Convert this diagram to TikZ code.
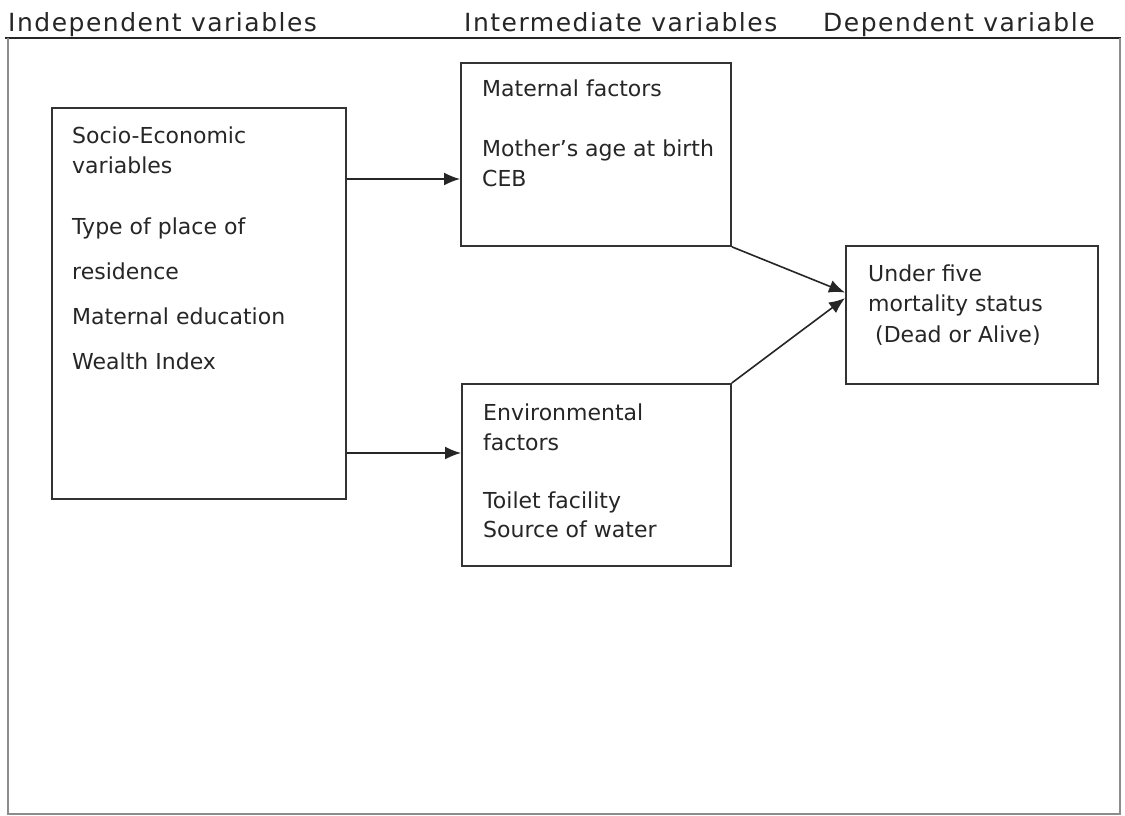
\documentclass[tikz,border=0pt]{standalone}
\usepackage{fontspec}
\setmainfont{DejaVu Sans}
\usetikzlibrary{arrows.meta,calc}
\begin{document}
\begin{tikzpicture}[x=1pt,y=-1pt,
  box/.style={draw=black!80, line width=1.8pt, anchor=north west, inner sep=0pt},
  txt/.style={anchor=north west, inner sep=0pt, align=left, font=\fontsize{22}{29.5}\selectfont, text=black!85},
  hdr/.style={anchor=base west, inner sep=0pt, font=\fontsize{25}{29}\selectfont\addfontfeature{LetterSpace=6}, text=black!85},
  arr/.style={draw=black!85, line width=1.6pt, -{Latex[length=16pt,width=13pt]}}]
\useasboundingbox[fill=white] (0,0) rectangle (1125,816);
% headers
\node[hdr] (h1) at (8,32) {Independent variables};
\node[hdr] (h2) at (464,32) {Intermediate variables};
\node[hdr] (h3) at (823,32) {Dependent variable};
\coordinate (ulL) at (5,38);
\coordinate (ulR) at (1121,38);
\coordinate (frBL) at (8,814);
\coordinate (frBR) at (1120,814);
\coordinate (frTL) at (8,38);
\coordinate (frTR) at (1120,38);
\draw[black!85, line width=1.5pt] (ulL) -- (ulR);
\draw[black!45, line width=1.2pt] (frTL) -- (frBL) -- (frBR) -- (frTR);
% boxes
\node[box, minimum width=294pt, minimum height=391pt] (se) at (51,107) {};
\node[box, minimum width=270pt, minimum height=183pt] (mat) at (460,62) {};
\node[box, minimum width=269pt, minimum height=182pt] (env) at (461,383) {};
\node[box, minimum width=252pt, minimum height=138pt] (uf) at (845,245) {};
% texts
\node[txt] (se-t) at (72,127) {Socio-Economic\\variables\\[32pt]Type of place of\\[15.5pt]residence\\[15.5pt]Maternal education\\[15pt]Wealth Index};
\node[txt] (mat-t) at (482,80) {Maternal factors\\[30.5pt]Mother's age at birth\\CEB};
\node[txt] (env-t) at (483,404) {Environmental\\factors\\[28.5pt]Toilet facility\\Source of water};
\node[txt] (uf-t) at (868,265) {Under five\\mortality status\\[2pt]\ (Dead or Alive)};
% arrows
\coordinate (y1) at (0,179);
\coordinate (y2) at (0,453);
\draw[arr] (se.east |- y1) -- (mat.west |- y1);
\draw[arr] (se.east |- y2) -- (env.west |- y2);
\draw[arr] (mat.south east) -- ($(uf.north west)!0.34!(uf.south west)$);
\draw[arr] (env.north east) -- ($(uf.north west)!0.38!(uf.south west)$);
\end{tikzpicture}
\end{document}
